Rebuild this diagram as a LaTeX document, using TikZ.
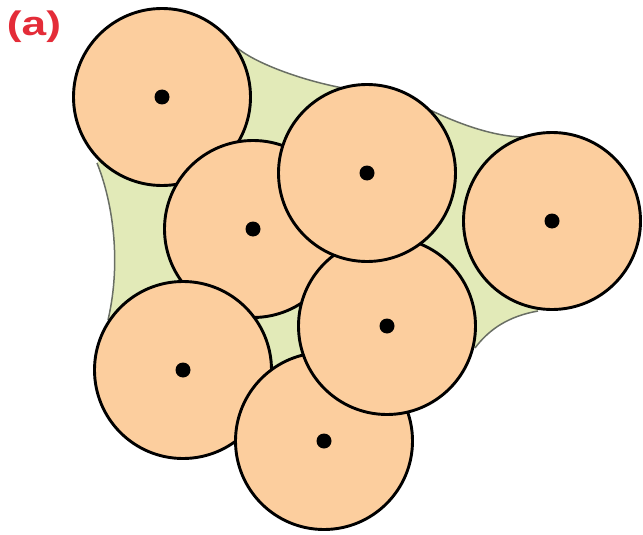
\documentclass[tikz,border=0pt]{standalone}
\usepackage{fontspec}
\setsansfont{Liberation Sans}
\usetikzlibrary{positioning}
\definecolor{peach}{RGB}{252,206,158}
\definecolor{pore}{RGB}{226,234,184}
\definecolor{rim}{RGB}{105,110,100}
\definecolor{labelred}{RGB}{228,44,56}
\tikzset{
  grain/.style={circle,draw=black,line width=2.9pt,fill=peach,inner sep=0pt,minimum size=177pt},
  centre/.style={circle,fill=black,inner sep=0pt,minimum size=15pt},
  lbl/.style={font=\sffamily\bfseries\fontsize{34}{38}\selectfont, text=labelred, xscale=1.3}
}

\begin{document}
\begin{tikzpicture}[x=1pt, y=-1pt,
        porefill/.style={fill=pore},
        poreedge/.style={draw=rim, line width=1.5pt}
    ]
    \useasboundingbox (0,0) rectangle (643,535);
    % pore space between the grains
    \coordinate (t1) at (235,46);
    \coordinate (t2) at (343,88);
    \coordinate (t3) at (430,110);
    \coordinate (t4) at (522,137);
    \coordinate (r1) at (538,311);
    \coordinate (r2) at (475,348);
    \coordinate (l1) at (108,320);
    \coordinate (l2) at (97,163);
    \path[porefill] (t1) .. controls (252,62) and (300,80) .. (t2)
        -- (t3) .. controls (455,122) and (490,136) .. (t4)
        -- (552,221) -- (r1) .. controls (510,316) and (490,328) .. (r2)
        -- (387,326) -- (324,441) -- (183,370) -- (l1)
        .. controls (122,260) and (112,200) .. (l2)
        -- (162,97) -- cycle;
    \draw[poreedge] (t1) .. controls (252,62) and (300,80) .. (t2);
    \draw[poreedge] (t3) .. controls (455,122) and (490,136) .. (t4);
    \draw[poreedge] (r1) .. controls (510,316) and (490,328) .. (r2);
    \draw[poreedge] (l1) .. controls (122,260) and (112,200) .. (l2);
    % grains, back to front
    \node[grain] (g1) at (162,97) {};
    \node[grain] (g2) at (253,229) {};
    \node[grain] (g5) at (183,370) {};
    \node[grain] (g7) at (324,441) {};
    \node[grain] (g6) at (387,326) {};
    \node[grain] (g3) at (367,173) {};
    \node[grain] (g4) at (552,221) {};
    \foreach \g in {g1,g2,g3,g4,g5,g6,g7}
        \node[centre] (c\g) at (\g.center) {};
    \node[lbl] (label) at (34,27) {(a)};
\end{tikzpicture}
\end{document}
